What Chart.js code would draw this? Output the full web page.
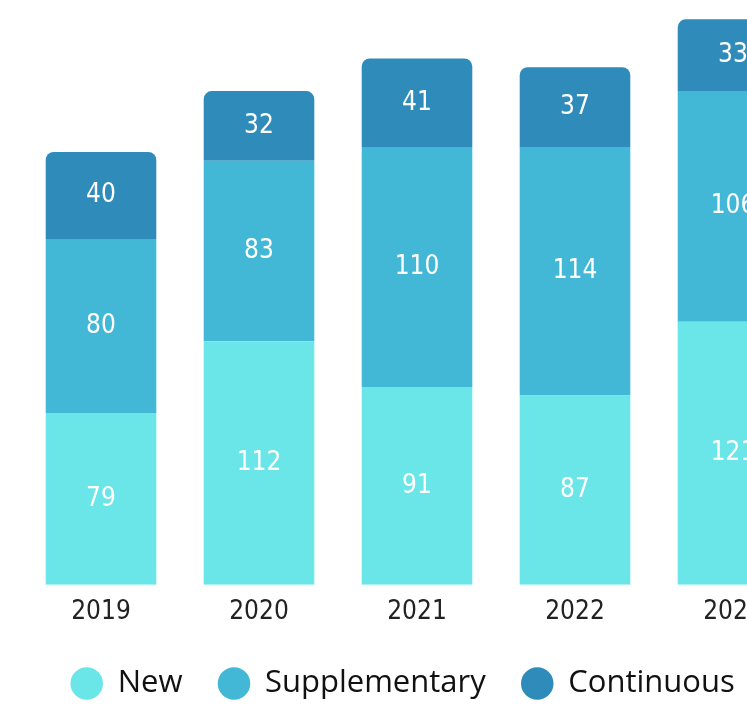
<!DOCTYPE html>
<html lang="en">
<head>
    <meta charset="UTF-8">
    <title>New / Supplementary / Continuous</title>
    <script src="https://cdn.jsdelivr.net/npm/chart.js"></script>
    <style>
        html, body { margin: 0; padding: 0; background: #fff; overflow: hidden; }
        #wrap { width: 834px; height: 706px; }
    </style>
</head>
<body>
    <div id="wrap"><canvas id="chart"></canvas></div>

    <script>
        // Data
        const years = ["2019", "2020", "2021", "2022", "2023"];
        const newValues = [79, 112, 91, 87, 121];
        const supplementaryValues = [80, 83, 110, 114, 106];
        const continuousValues = [40, 32, 41, 37, 33];

        const labelFont = "'DejaVu Sans Condensed', Roboto, sans-serif";

        // Draw the value in the middle of each bar segment
        const segmentLabels = {
            id: "segmentLabels",
            afterDatasetsDraw(chart) {
                const ctx = chart.ctx;
                ctx.save();
                ctx.fillStyle = "#ffffff";
                ctx.font = "26px " + labelFont;
                ctx.textAlign = "center";
                ctx.textBaseline = "middle";
                chart.data.datasets.forEach((ds, i) => {
                    chart.getDatasetMeta(i).data.forEach((bar, j) => {
                        const mid = (bar.y + bar.base) / 2;
                        ctx.fillText(ds.data[j], bar.x, mid);
                    });
                });
                ctx.restore();
            }
        };

        // the legend sits a little left of the bars' centre in the original
        const legendShift = {
            id: "legendShift",
            afterLayout(chart) {
                chart.legend.left -= 14;
                chart.legend.right -= 14;
            }
        };

        new Chart(document.getElementById("chart"), {
            type: "bar",
            data: {
                labels: years,
                datasets: [
                    { label: "New", data: newValues, backgroundColor: "#6ae5e8" },
                    { label: "Supplementary", data: supplementaryValues, backgroundColor: "#42b7d6" },
                    {
                        label: "Continuous", data: continuousValues, backgroundColor: "#2e8bba",
                        borderRadius: { topLeft: 8, topRight: 8 }, borderSkipped: "bottom"
                    }
                ]
            },
            options: {
                responsive: true,
                maintainAspectRatio: false,
                animation: false,
                layout: { padding: { top: 15, left: 22, right: 22, bottom: -3 } },
                datasets: { bar: { barPercentage: 0.7, categoryPercentage: 1 } },
                scales: {
                    x: {
                        stacked: true,
                        grid: { display: false },
                        border: { display: false },
                        ticks: { color: "#222", font: { family: labelFont, size: 26 }, padding: 4 }
                    },
                    y: { stacked: true, display: false, min: 0, max: 262 }
                },
                plugins: {
                    tooltip: { enabled: false },
                    legend: {
                        position: "bottom",
                        labels: {
                            usePointStyle: true,
                            pointStyle: "circle",
                            boxWidth: 31,
                            boxHeight: 23,
                            padding: 36,
                            color: "#111",
                            font: { family: "'Open Sans', sans-serif", size: 31 }
                        }
                    }
                }
            },
            plugins: [segmentLabels, legendShift]
        });
    </script>
</body>
</html>
